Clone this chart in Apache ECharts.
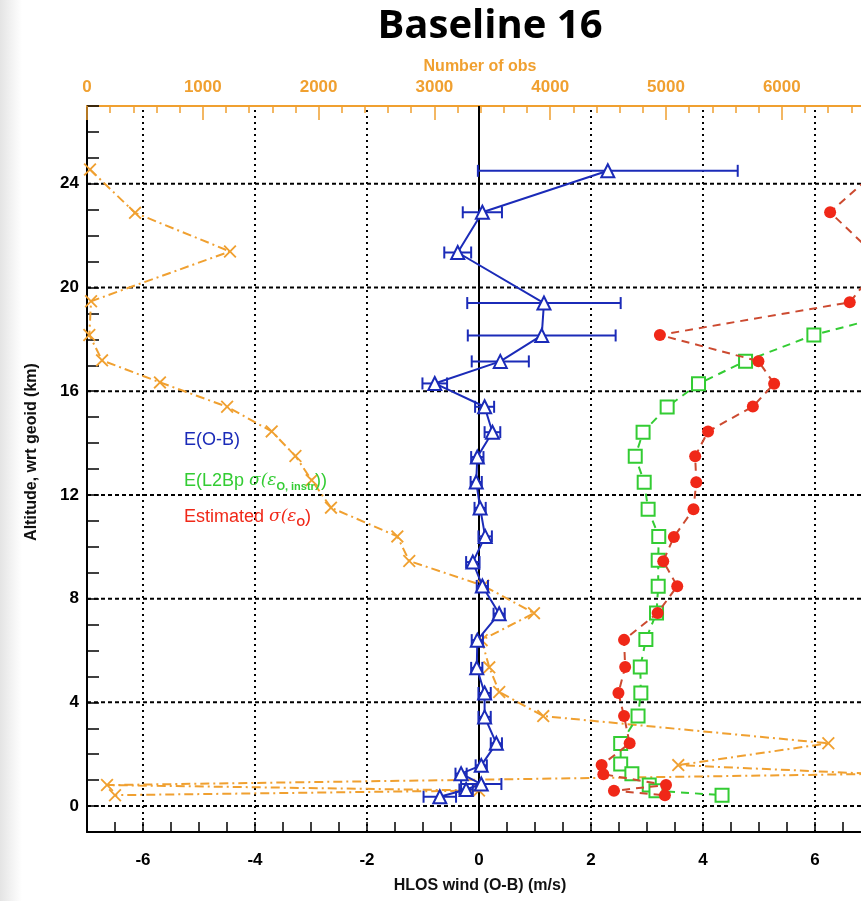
<!DOCTYPE html>
<html>
<head>
<meta charset="utf-8">
<script src="https://cdn.jsdelivr.net/npm/echarts@6/dist/echarts.min.js"></script>
<style>
  html, body { margin: 0; padding: 0; background: #ffffff; overflow: hidden; width: 861px; height: 901px; }
  /* the drawing surface is wider than the page so the plot area runs past its right edge */
  #chart { width: 960px; height: 901px; }
</style>
</head>
<body>
<div id="chart"></div>
<script>
// Altitude profiles (km, wrt geoid) and values per bin

// E(O-B): mean HLOS wind O-B bias (m/s) with its error bar half-width
const altBlue = [24.5, 22.9, 21.35, 19.4, 18.15, 17.15, 16.3, 15.4, 14.42, 13.46, 12.5, 11.5, 10.4, 9.41, 8.49, 7.42, 6.4, 5.33, 4.36, 3.44, 2.42, 1.57, 1.25, 0.85, 0.64, 0.36];
const biasOB  = [2.30, 0.06, -0.38, 1.16, 1.12, 0.38, -0.79, 0.10, 0.24, -0.03, -0.05, 0.02, 0.11, -0.11, 0.06, 0.36, -0.03, -0.04, 0.10, 0.10, 0.31, 0.04, -0.32, 0.04, -0.23, -0.70];
const biasErr = [2.32, 0.35, 0.24, 1.37, 1.32, 0.51, 0.22, 0.17, 0.14, 0.11, 0.10, 0.10, 0.12, 0.12, 0.10, 0.10, 0.10, 0.10, 0.11, 0.11, 0.10, 0.10, 0.10, 0.36, 0.12, 0.29];

// E(L2Bp sigma(eps_O, instr)) (m/s)
const altGreen = [19.43, 18.17, 17.16, 16.29, 15.39, 14.42, 13.49, 12.49, 11.45, 10.4, 9.48, 8.48, 7.45, 6.42, 5.36, 4.36, 3.47, 2.41, 1.62, 1.25, 0.81, 0.59, 0.42];
const sigL2B   = [8.2, 5.98, 4.76, 3.92, 3.36, 2.93, 2.79, 2.95, 3.02, 3.21, 3.20, 3.20, 3.17, 2.98, 2.88, 2.89, 2.84, 2.53, 2.53, 2.73, 3.04, 3.16, 4.34];

// Estimated sigma(eps_O) (m/s)
const altRed = [24.5, 22.9, 21.4, 20.4, 19.43, 18.17, 17.16, 16.29, 15.41, 14.45, 13.49, 12.49, 11.45, 10.38, 9.44, 8.48, 7.45, 6.41, 5.36, 4.36, 3.47, 2.42, 1.58, 1.23, 0.81, 0.59, 0.42];
const sigEst = [7.1, 6.27, 7.0, 6.98, 6.62, 3.23, 4.99, 5.27, 4.89, 4.09, 3.86, 3.88, 3.83, 3.48, 3.29, 3.54, 3.19, 2.59, 2.61, 2.49, 2.59, 2.69, 2.19, 2.22, 3.34, 2.41, 3.32];

// Number of observations per bin (top axis)
const altObs = [24.55, 22.88, 21.39, 19.47, 18.17, 17.19, 16.34, 15.4, 14.45, 13.5, 12.57, 11.51, 10.4, 9.45, 8.5, 7.44, 6.4, 5.35, 4.4, 3.47, 2.42, 1.58, 1.24, 0.81, 0.6, 0.42];
const nObs   = [26, 415, 1235, 35, 20, 130, 630, 1210, 1595, 1800, 1940, 2107, 2680, 2783, 3422, 3860, 3408, 3474, 3560, 3940, 6402, 5106, 6805, 173, 3385, 242];

// Axis ranges and grid-line positions
const X_MIN = -7, X_MAX = 8;
const Y_MIN = -1, Y_MAX = 27;
const OBS_MAX = 7254;
const xGrid = [-6, -4, -2, 0, 2, 4, 6];
const yGrid = [0, 4, 8, 12, 16, 20, 24];

const BLUE = '#1b2bb8';
const GREEN = '#33cc33';
const RED = '#f02818';
const RED_LINE = '#cc4a30';
const ORANGE = '#f0a030';
const TICK_FONT = 'Liberation Sans, Arial, sans-serif';

const zip = (xs, ys) => xs.map((x, i) => [x, ys[i]]);
const crossPath = 'path://M0,1L1,0L5,4L9,0L10,1L6,5L10,9L9,10L5,6L1,10L0,9L4,5Z';

const chart = echarts.init(document.getElementById('chart'), null, { renderer: 'canvas' });

const option = {
  backgroundColor: '#ffffff',
  animation: false,
  grid: { left: 87, top: 106, width: 840, height: 726, containLabel: false },
  xAxis: [
    {
      type: 'value', position: 'bottom', min: X_MIN, max: X_MAX, interval: 0.5,
      axisLine: { show: true, onZero: false, lineStyle: { color: '#000', width: 2 } },
      axisTick: { show: true, inside: true, length: 10, lineStyle: { color: '#000', width: 1.5 } },
      axisLabel: {
        margin: 20, color: '#000', fontWeight: 'bold', fontSize: 17, fontFamily: TICK_FONT,
        formatter: v => (Math.abs(v % 2) < 1e-9 && v >= -6 && v <= 6) ? String(v) : ''
      },
      splitLine: { show: false }
    },
    {
      type: 'value', position: 'top', min: 0, max: OBS_MAX, interval: 1000,
      axisLine: { show: true, onZero: false, lineStyle: { color: ORANGE, width: 2 } },
      axisTick: { show: true, inside: true, length: 14, lineStyle: { color: ORANGE, width: 1.5 } },
      minorTick: { show: true, splitNumber: 5, length: 7, lineStyle: { color: ORANGE, width: 1.5 } },
      axisLabel: {
        margin: 10, color: ORANGE, fontWeight: 'bold', fontSize: 17, fontFamily: TICK_FONT,
        formatter: v => (v % 1000 === 0) ? String(v) : ''
      },
      splitLine: { show: false },
      minorSplitLine: { show: false }
    }
  ],
  yAxis: [
    {
      type: 'value', min: Y_MIN, max: Y_MAX, interval: 1,
      axisLine: { show: true, onZero: false, lineStyle: { color: '#000', width: 2 } },
      axisTick: { show: true, inside: true, length: 12, lineStyle: { color: '#000', width: 1.5 } },
      axisLabel: {
        margin: 8, color: '#000', fontWeight: 'bold', fontSize: 17, fontFamily: TICK_FONT,
        formatter: v => (v % 4 === 0 && v >= 0 && v <= 24) ? String(v) : ''
      },
      splitLine: { show: false }
    }
  ],
  series: [
    {
      // vertical grid lines (dotted) and the solid zero line
      type: 'custom', xAxisIndex: 0, yAxisIndex: 0, z: 1, silent: true, clip: true,
      data: xGrid.map(v => [v, 0]),
      encode: { x: 0, y: 1 },
      renderItem: (params, api) => {
        const v = api.value(0);
        const p0 = api.coord([v, Y_MIN]);
        const p1 = api.coord([v, Y_MAX]);
        return {
          type: 'line',
          shape: { x1: p0[0], y1: p0[1], x2: p1[0], y2: p1[1] },
          style: { stroke: '#000', lineWidth: 2, lineDash: v === 0 ? null : [2, 4] }
        };
      }
    },
    {
      // horizontal grid lines (dashed)
      type: 'custom', xAxisIndex: 0, yAxisIndex: 0, z: 1, silent: true, clip: true,
      data: yGrid.map(v => [0, v]),
      encode: { x: 0, y: 1 },
      renderItem: (params, api) => {
        const v = api.value(1);
        const p0 = api.coord([X_MIN, v]);
        const p1 = api.coord([X_MAX, v]);
        return {
          type: 'line',
          shape: { x1: p0[0], y1: p0[1], x2: p1[0], y2: p1[1] },
          style: { stroke: '#000', lineWidth: 2, lineDash: [4, 3] }
        };
      }
    },
    {
      name: 'Number of obs',
      type: 'line', xAxisIndex: 1, yAxisIndex: 0, z: 2,
      data: zip(nObs, altObs),
      symbol: crossPath, symbolSize: 13,
      itemStyle: { color: ORANGE },
      lineStyle: { color: ORANGE, width: 2, type: [9, 4, 2, 4] }
    },
    {
      name: 'E(L2Bp σ(εO, instr))',
      type: 'line', xAxisIndex: 0, yAxisIndex: 0, z: 3,
      data: zip(sigL2B, altGreen),
      symbol: 'emptyRect', symbolSize: 13,
      itemStyle: { color: GREEN, borderColor: GREEN, borderWidth: 2 },
      lineStyle: { color: GREEN, width: 2, type: [8, 6] }
    },
    {
      name: 'Estimated σ(εO)',
      type: 'line', xAxisIndex: 0, yAxisIndex: 0, z: 4,
      data: zip(sigEst, altRed),
      symbol: 'circle', symbolSize: 12,
      itemStyle: { color: RED },
      lineStyle: { color: RED_LINE, width: 2, type: [8, 6] }
    },
    {
      // error bars of E(O-B)
      type: 'custom', xAxisIndex: 0, yAxisIndex: 0, z: 5, clip: true,
      data: biasOB.map((x, i) => [x, altBlue[i], biasErr[i]]),
      encode: { x: 0, y: 1 },
      renderItem: (params, api) => {
        const x = api.value(0), y = api.value(1), e = api.value(2);
        const a = api.coord([x - e, y]);
        const b = api.coord([x + e, y]);
        const cap = 6;
        const st = { stroke: BLUE, lineWidth: 2 };
        return {
          type: 'group',
          children: [
            { type: 'line', shape: { x1: a[0], y1: a[1], x2: b[0], y2: b[1] }, style: st },
            { type: 'line', shape: { x1: a[0], y1: a[1] - cap, x2: a[0], y2: a[1] + cap }, style: st },
            { type: 'line', shape: { x1: b[0], y1: b[1] - cap, x2: b[0], y2: b[1] + cap }, style: st }
          ]
        };
      }
    },
    {
      name: 'E(O-B)',
      type: 'line', xAxisIndex: 0, yAxisIndex: 0, z: 6,
      data: zip(biasOB, altBlue),
      symbol: 'emptyTriangle', symbolSize: 13,
      itemStyle: { color: BLUE, borderColor: BLUE, borderWidth: 2 },
      lineStyle: { color: BLUE, width: 2 }
    }
  ],
  graphic: [
    {
      type: 'rect', z: -10, silent: true,
      shape: { x: 0, y: 0, width: 22, height: 901 },
      style: {
        fill: new echarts.graphic.LinearGradient(0, 0, 1, 0, [
          { offset: 0, color: '#e4e4e4' },
          { offset: 0.5, color: '#f2f2f2' },
          { offset: 1, color: '#ffffff' }
        ])
      }
    },
    {
      type: 'text', x: 490, y: 27, silent: true,
      style: {
        text: 'Baseline 16', fill: '#000', align: 'center', verticalAlign: 'middle',
        font: 'bold 40px "Open Sans", Lato, sans-serif'
      }
    },
    {
      type: 'text', x: 480, y: 67, silent: true,
      style: {
        text: 'Number of obs', fill: ORANGE, align: 'center', verticalAlign: 'middle',
        font: 'bold 16px "Liberation Sans", Arial, sans-serif'
      }
    },
    {
      type: 'text', x: 480, y: 886, silent: true,
      style: {
        text: 'HLOS wind (O-B) (m/s)', fill: '#111', align: 'center', verticalAlign: 'middle',
        font: 'bold 16px "Liberation Sans", Arial, sans-serif'
      }
    },
    {
      type: 'text', x: 32, y: 452, rotation: Math.PI / 2, silent: true,
      style: {
        text: 'Altitude, wrt geoid (km)', fill: '#111', align: 'center', verticalAlign: 'middle',
        font: 'bold 16px "Liberation Sans", Arial, sans-serif'
      }
    },
    {
      type: 'text', x: 184, y: 440, silent: true, z: 20,
      style: {
        text: 'E(O-B)', fill: BLUE, align: 'left', verticalAlign: 'middle',
        font: '18px "Liberation Sans", Arial, sans-serif'
      }
    },
    {
      type: 'text', x: 184, y: 481, silent: true, z: 20,
      style: {
        text: '{n|E(L2Bp }{g|σ(ε}{s|O, instr}{n|))}',
        align: 'left', verticalAlign: 'middle',
        rich: {
          n: { fill: GREEN, fontSize: 18, fontFamily: 'Liberation Sans, Arial, sans-serif' },
          g: { fill: GREEN, fontSize: 17, fontStyle: 'italic', fontFamily: 'DejaVu Serif, serif' },
          s: { fill: GREEN, fontSize: 11, fontWeight: 'bold', padding: [12, 0, 0, 0], fontFamily: 'Liberation Sans, Arial, sans-serif' }
        }
      }
    },
    {
      type: 'text', x: 184, y: 517, silent: true, z: 20,
      style: {
        text: '{n|Estimated }{g|σ(ε}{s|O}{n|)}',
        align: 'left', verticalAlign: 'middle',
        rich: {
          n: { fill: RED, fontSize: 18, fontFamily: 'Liberation Sans, Arial, sans-serif' },
          g: { fill: RED, fontSize: 17, fontStyle: 'italic', fontFamily: 'DejaVu Serif, serif' },
          s: { fill: RED, fontSize: 11, fontWeight: 'bold', padding: [12, 0, 0, 0], fontFamily: 'Liberation Sans, Arial, sans-serif' }
        }
      }
    }
  ]
};

chart.setOption(option);
</script>
</body>
</html>
